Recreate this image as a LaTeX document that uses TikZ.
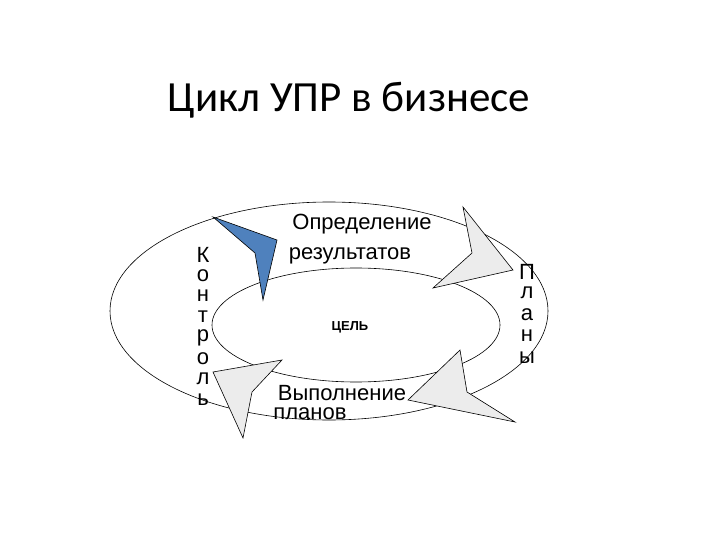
\documentclass[tikz,border=0pt]{standalone}
\usepackage{fontspec}
\setmainfont{Liberation Sans}
\newfontfamily\titlefont{Carlito}
\definecolor{arrblue}{HTML}{4F81BD}
\begin{document}
\begin{tikzpicture}[x=1pt,y=-1pt,
  arr/.style={draw=black,line width=0.6pt,fill=gray!15},
  lbl/.style={font=\fontsize{22}{22}\selectfont,inner sep=0},
  vl/.style={font=\fontsize{22}{22}\selectfont,inner sep=0}]
\useasboundingbox (0,0) rectangle (720,540);
\node[font=\titlefont\fontsize{43}{43}\selectfont] (title) at (349,100) {Цикл УПР в бизнесе};
\draw[line width=0.6pt] (329,311) ellipse (219 and 109);
\draw[line width=0.6pt,fill=white] (356,325) ellipse (144 and 57);
\node[font=\bfseries\fontsize{13}{13}\selectfont] (goal) at (350,327) {ЦЕЛЬ};
\node[lbl] (t1) at (362,224) {Определение};
\node[lbl] (t2) at (350,256) {результатов};
\node[lbl] (t3) at (342,393) {Выполнение};
\node[lbl] (t4) at (310,414) {планов};
\foreach \ch [count=\i] in {К,о,н,т,р,о,л,ь}
  \node[vl] (k\i) at (203,{234+20.7*\i}) {\ch};
\foreach \ch [count=\i] in {П,л,а,н,ы}
  \node[vl] (p\i) at (527,{250+21.5*\i}) {\ch};
\draw[arr,fill=arrblue] (213,217) -- (277,240) -- (263,300) -- (255,253) -- cycle;
\draw[arr] (463,207) -- (513,270) -- (433,288) -- (472,253) -- cycle;
\draw[arr] (460,350) -- (467,392) -- (515,422) -- (408,400) -- cycle;
\draw[arr] (282,360) -- (252,392) -- (243,438) -- (213,372) -- cycle;
\end{tikzpicture}
\end{document}
